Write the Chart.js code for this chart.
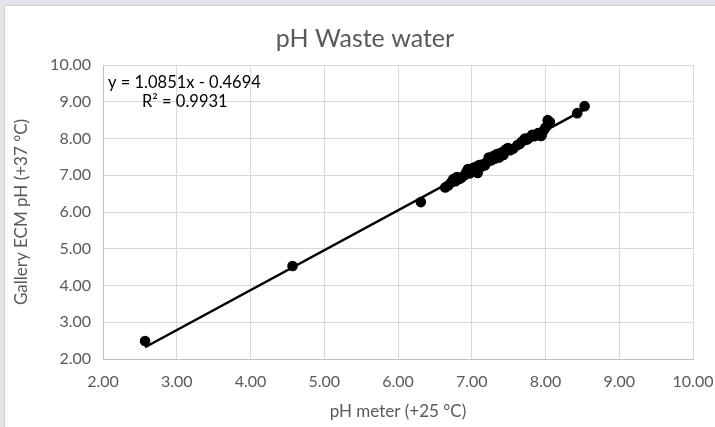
<!DOCTYPE html>
<html><head><meta charset="utf-8">
<script src="https://cdn.jsdelivr.net/npm/chart.js@4.4.1/dist/chart.umd.min.js"></script>
<style>
html,body{margin:0;padding:0;background:#e1e4e9;width:715px;height:427px;overflow:hidden}
#box{position:absolute;left:4px;top:5px;width:710px;height:421px;background:#fff;border:1px solid #d0d0d0;border-right:none;border-bottom:none}
canvas{display:block}
</style></head><body>
<div id="box"><canvas id="c" width="710" height="421"></canvas></div>
<script>
const titleText = "pH Waste water";
const xTitle = "pH meter (+25 °C)";
const yTitle = "Gallery ECM pH (+37 °C)";
const eqText = "y = 1.0851x - 0.4694";
const r2Text = "R² = 0.9931";
const xTicks = [2,3,4,5,6,7,8,9,10];
const yTicks = [2,3,4,5,6,7,8,9,10];
const phMeter = [2.57,4.57,6.31,6.64,6.68,6.72,6.75,6.78,6.80,6.83,6.86,6.90,6.93,6.95,6.97,7.00,7.02,7.05,7.08,7.10,7.12,7.15,7.18,7.20,7.23,7.26,7.29,7.31,7.34,7.37,7.40,7.43,7.46,7.49,7.52,7.56,7.62,7.65,7.68,7.72,7.75,7.78,7.82,7.85,7.90,7.94,7.95,7.98,8.00,8.03,8.06,8.43,8.53];
const galleryPh = [2.49,4.53,6.27,6.67,6.72,6.80,6.90,6.84,6.95,6.90,6.93,7.00,7.10,7.17,7.05,7.15,7.20,7.22,7.06,7.28,7.22,7.30,7.27,7.35,7.48,7.40,7.52,7.45,7.58,7.48,7.62,7.55,7.70,7.74,7.68,7.72,7.82,7.85,7.92,8.00,7.97,8.02,8.10,8.06,8.15,8.07,8.10,8.23,8.30,8.50,8.45,8.69,8.88];
const trendX = [2.57, 8.53];
const trendY = [2.32, 8.79];

const FONT = "Lato";
const GREY = "#595959";

const textPlugin = {
  id: 'texts',
  afterDraw(chart) {
    const ctx = chart.ctx;
    ctx.save();
    ctx.fillStyle = GREY;
    ctx.font = "25px " + FONT;
    ctx.textAlign = "center";
    ctx.textBaseline = "middle";
    ctx.fillText(titleText, 360, 33);
    ctx.fillStyle = "#000";
    ctx.font = "16.5px " + FONT;
    ctx.textAlign = "left";
    ctx.fillText(eqText, 103, 77);
    ctx.fillText(r2Text, 137, 96);
    ctx.restore();
  }
};

new Chart(document.getElementById('c'), {
  type: 'scatter',
  data: {
    datasets: [
      {
        type: 'line',
        data: trendX.map((x, i) => ({x, y: trendY[i]})),
        borderColor: '#000', borderWidth: 2.5, pointRadius: 0, fill: false, order: 2
      },
      {
        data: phMeter.map((x, i) => ({x, y: galleryPh[i]})),
        backgroundColor: '#000', borderColor: '#000', pointRadius: 5.3, borderWidth: 0, order: 1
      }
    ]
  },
  options: {
    responsive: false, animation: false,
    layout: { padding: { top: 59, right: 0, bottom: 0, left: 0 } },
    plugins: { legend: { display: false }, tooltip: { enabled: false } },
    scales: {
      x: {
        type: 'linear', min: 2, max: 10,
        afterBuildTicks: s => { s.ticks = xTicks.map(v => ({value: v})); },
        afterFit: s => { s.height = 68; s.paddingRight = 22; s.paddingLeft = 0; },
        grid: { color: '#d9d9d9', drawTicks: false },
        border: { color: '#c0c0c0' },
        ticks: { padding: 13, color: GREY, font: { family: FONT, size: 16 }, callback: v => v.toFixed(2) },
        title: { display: true, text: xTitle, color: GREY, font: { family: FONT, size: 17 }, padding: { top: 0, bottom: 5 } }
      },
      y: {
        type: 'linear', min: 2, max: 10,
        afterBuildTicks: s => { s.ticks = yTicks.map(v => ({value: v})); },
        afterFit: s => { s.width = 98; },
        grid: { color: '#d9d9d9', drawTicks: false },
        border: { color: '#c0c0c0' },
        ticks: { padding: 12, color: GREY, font: { family: FONT, size: 16 }, callback: v => v.toFixed(2) },
        title: { display: true, text: yTitle, color: GREY, font: { family: FONT, size: 17 }, padding: { top: 6, bottom: 0 } }
      }
    }
  },
  plugins: [textPlugin]
});
</script>
</body></html>
